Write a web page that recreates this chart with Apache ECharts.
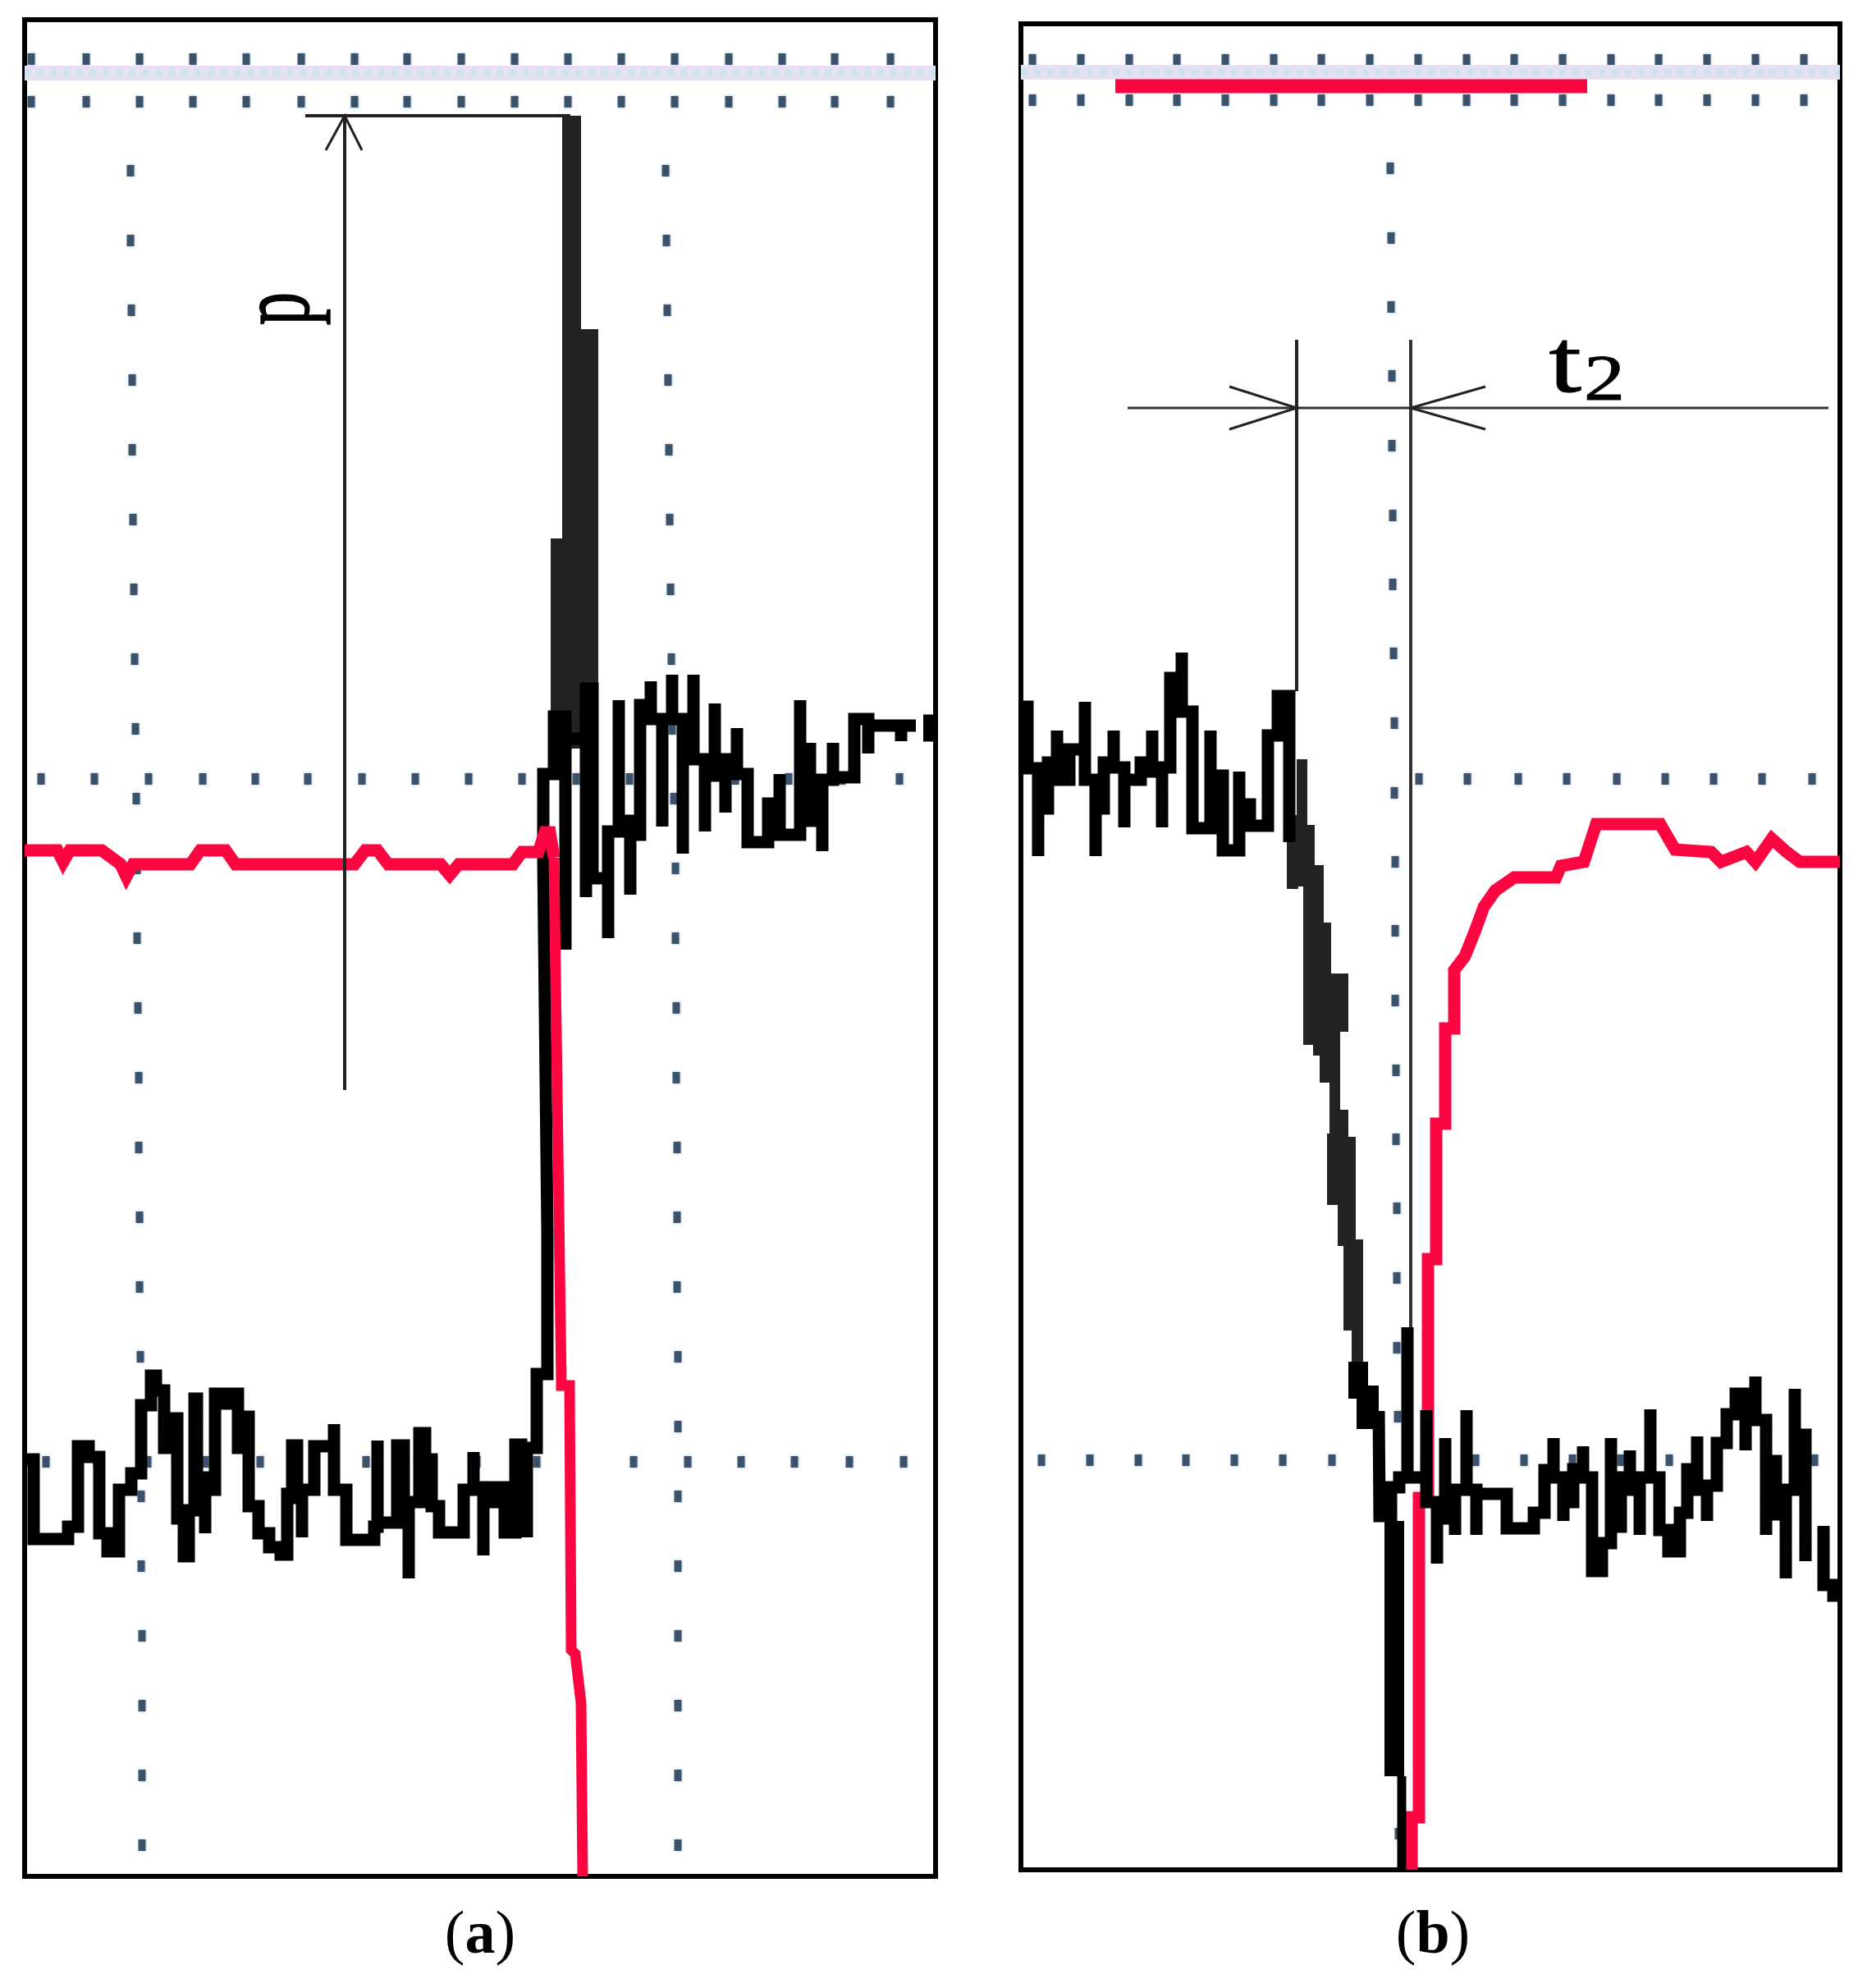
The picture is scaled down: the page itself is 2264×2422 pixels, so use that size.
<!DOCTYPE html>
<html>
<head>
<meta charset="utf-8">
<title>Pressure traces (a) and (b)</title>
<script src="https://cdn.jsdelivr.net/npm/echarts@6/dist/echarts.min.js"></script>
<style>
  html, body { margin: 0; padding: 0; background: #fff; }
  #chart { width: 2264px; height: 2422px; }
</style>
</head>
<body>
<div id="chart"></div>
<script>
// values: [time, level]
const blackA = [[0,508],[11,508],[11,411],[53,411],[53,426],[65,426],[65,524],[78,524],[78,511],[91,511],[91,418],[101,418],[101,396],[115,396],[115,471],[130,471],[130,491],[142,491],[142,574],[154,574],[154,610],[160,610],[160,592],[170,592],[170,522],[178,522],[178,558],[186,558],[186,436],[194,436],[194,390],[200,390],[200,446],[207,446],[207,582],[210,582],[210,486],[220,486],[220,418],[220,471],[232,471],[232,588],[240,588],[240,576],[252,576],[252,588],[260,588],[260,522],[266,522],[266,560],[273,560],[273,451],[285,451],[285,418],[298,418],[298,401],[312,401],[312,392],[320,392],[320,466],[326,466],[326,525],[332,525],[332,461],[338,461],[338,413],[338,471],[353,471],[353,524],[377,524],[377,551],[377,471],[392,471],[392,410],[426,410],[426,426],[430,426],[430,531],[430,431],[454,431],[454,525],[462,525],[462,456],[468,456],[468,363],[468,456],[481,456],[481,540],[488,540],[488,508],[496,508],[496,451],[505,451],[505,419],[535,419],[535,471],[547,471],[547,517],[547,474],[559,474],[559,391],[559,456],[573,456],[573,474],[585,474],[585,419],[598,419],[598,526],[605,526],[605,496],[612,496],[612,413],[612,522],[624,522],[624,612],[637,612],[637,786],[632,1238],[632,1343],[645,1343],[645,1413],[659,1413],[659,1129],[659,1386],[684,1386],[684,1193],[684,1447],[692,1447],[692,1216],[711,1216],[711,1143],[711,1273],[724,1273],[724,1433],[724,1286],[738,1286],[738,1196],[738,1269],[750,1269],[750,1427],[763,1427],[763,1456],[763,1410],[777,1410],[777,1279],[777,1410],[789,1410],[789,1464],[789,1410],[802,1410],[802,1246],[802,1361],[815,1361],[815,1464],[815,1361],[829,1361],[829,1273],[829,1341],[841,1341],[841,1429],[841,1341],[854,1341],[854,1296],[854,1361],[868,1361],[868,1399],[868,1343],[881,1343],[881,1260],[906,1260],[906,1307],[920,1307],[920,1343],[920,1269],[945,1269],[945,1433],[945,1286],[957,1286],[957,1381],[957,1286],[972,1286],[972,1249],[972,1336],[985,1336],[985,1381],[985,1339],[1011,1339],[1011,1410],[1028,1410],[1028,1368],[1028,1402],[1068,1402],[1068,1383],[1068,1402],[1086,1402]];
const blackEndA = [[1095,1399],[1110,1399]];
const pulseBarsA = [[666.5,2145,1434],[681,1885,1451],[652,1630,1420],[670.5,1434,1374]];
const redFlatA = [[0,1250],[40,1250],[47,1236],[55,1250],[94,1250],[117,1233],[124,1218],[132,1233],[202,1233],[214,1250],[245,1250],[257,1233],[402,1233],[415,1250],[430,1250],[443,1233],[507,1233],[518,1220],[529,1233],[595,1233],[606,1248],[626,1248],[634,1272],[640,1272],[645,1241]];
const redFallA = [[645,1241],[650,886],[654,598],[664,598],[666,276],[671,271],[678,211],[680,0]];

const blackB = [[0,1417],[8,1417],[8,1342],[21,1342],[21,1235],[21,1293],[33,1293],[33,1349],[44,1349],[44,1388],[44,1328],[59,1328],[59,1365],[78,1365],[78,1423],[78,1328],[91,1328],[91,1235],[91,1293],[101,1293],[101,1349],[113,1349],[113,1388],[113,1343],[126,1343],[126,1270],[126,1328],[146,1328],[146,1349],[160,1349],[160,1388],[160,1338],[172,1338],[172,1270],[172,1343],[182,1343],[182,1452],[196,1452],[196,1483],[196,1411],[209,1411],[209,1269],[231,1269],[231,1388],[231,1333],[246,1333],[246,1242],[266,1242],[266,1338],[266,1298],[279,1298],[279,1272],[301,1272],[301,1382],[313,1382],[313,1430],[327,1430],[327,1252]];
const blackRiseB = [[436,559],[437,431],[451,431],[451,466],[461,466],[461,478],[471,478],[471,661],[471,478],[494,478],[494,560],[494,448],[507,448],[507,373],[507,438],[517,438],[517,526],[517,428],[529,428],[529,408],[529,463],[543,463],[543,560],[543,463],[555,463],[555,408],[555,458],[592,458],[592,416],[625,416],[625,435],[638,435],[638,487],[649,487],[649,526],[649,478],[661,478],[661,425],[661,448],[673,448],[673,488],[685,488],[685,516],[685,478],[696,478],[696,364],[708,364],[708,398],[719,398],[719,526],[719,418],[731,418],[731,478],[742,478],[742,511],[742,463],[754,463],[754,408],[754,478],[767,478],[767,561],[767,478],[778,478],[778,414],[789,414],[789,388],[803,388],[803,435],[812,435],[812,488],[824,488],[824,528],[824,463],[836,463],[836,425],[836,468],[848,468],[848,520],[860,520],[860,555],[871,555],[871,580],[883,580],[883,511],[883,578],[895,578],[895,601],[895,548],[908,548],[908,408],[908,498],[920,498],[920,433],[932,433],[932,355],[932,463],[943,463],[943,586],[943,530],[956,530],[956,376]];
const blackEndB = [[978,419],[978,347],[990,347],[990,334],[998,334]];
const fallBarsB = [[331,1285,1195],[342.5,1353,1198],[351,1273,1129],[363.5,1224,1148],[351,1129,1005],[367,1154,992],[388.5,1092,1021],[376.5,1025,959],[382.5,959,893],[379.5,897,810],[392.5,926,760],[402,893,760],[400.5,760,657],[410,768,615]];
const fallBlackB = [[411,619,574],[422.5,590,537],[455,425,114],[464,114,0]];
const redBarB = [[115,2173],[690,2173]];
const redB = [[476,0],[476,64],[485,64],[485,453],[496,453],[496,744],[506,744],[506,909],[517,909],[517,1025],[528,1025],[528,1096],[541,1113],[553,1143],[564,1173],[578,1193],[601,1209],[652,1209],[658,1223],[686,1228],[701,1274],[779,1274],[797,1243],[841,1240],[853,1228],[884,1240],[895,1228],[915,1256],[933,1240],[949,1228],[998,1228]];

// scope graticule dots
const topDotsA = [8,75,140,205,270,337,402,466,532,597,662,727,792,858,923,987,1055];
const midDotsA = [20,85,151,217,281,345,411,476,541,606,672,737,802,866,931,996,1066];
const lowDotsA = [26,88,150,220,287,353,416,479,551,624,742,808,873,938,1005,1071];
const colLevelsA = [2078,1993,1908,1823,1738,1653,1568,1483,1398,1313,1228,1143,1058,973,888,803,718,633,548,463,378,293,208,123,38];
const col1TimesA = [129,129,130,131,131,132,133,134,135,136,137,137,138,139,139,140,140,141,142,142,142,143,143,143,143];
const col2TimesA = [781,782,783,784,785,786,787,788,789,791,793,793,794,794,795,795,795,796,796,796,796,796,796,796,796];
const topDotsB = [14,73,132,190,249,308,366,425,484,543,601,660,719,777,836,895,954];
const midDotsB = [485,544,606,665,726,785,844,903,964];
const lowDotsB = [25,84,143,201,260,319,379,436,495,554,613,672,731,790,849,908,967];
const colLevelsB = [2073,1988,1904,1820,1735,1650,1566,1482,1397,1312,1228,1144,1059,974,890,806,721,636,552,468,383,298,214,130,44];
const colTimesB = [450,451,451,452,452,453,453,454,455,455,456,456,456,457,457,458,458,458,459,459,459,460,460,460,460];

// measuring lines drawn over the traces
const peakLineA = [[342,2145],[665,2145]];
const peakArrowA = [[390,2145],[390,958]];
const peakHeadA = [[367,2103],[390,2145],[411,2103]];
const cursor1B = [[336,1864],[336,1436]];
const cursor2B = [[475,1864],[475,657]];
const spanLineB = [[130,1781],[984,1781]];
const spanHead1B = [[254,1807],[336,1781],[254,1755]];
const spanHead2B = [[566,1807],[475,1781],[566,1755]];

const RED = "#fb0640";
const serif = "Liberation Serif";

function line(i, data, color, width, extra) {
  return Object.assign({
    type: "line",
    xAxisIndex: i,
    yAxisIndex: i,
    data: data,
    symbol: "none",
    silent: true,
    animation: false,
    lineStyle: { color: color, width: width, cap: "butt", join: "miter", miterLimit: 10 },
  }, extra || {});
}

function bars(i, rows, color, widths) {
  return rows.map((r, k) => line(i, [[r[0], r[1]], [r[0], r[2]]], color, widths[k]));
}

function dots(i, points) {
  return {
    type: "scatter",
    xAxisIndex: i,
    yAxisIndex: i,
    data: points,
    symbol: "rect",
    symbolSize: [9, 14],
    silent: true,
    animation: false,
    itemStyle: { color: "#2f4760", opacity: 0.9, shadowBlur: 3, shadowColor: "#8fa6c4" },
  };
}

const row = (times, level) => times.map((t) => [t, level]);
const zip = (times, levels) => times.map((t, k) => [t, levels[k]]);

const series = [
  // panel a
  line(0, [[0, 2197], [1110, 2197]], "#e6e0f3", 18),
  line(0, [[0, 2197], [1110, 2197]], "#c8e3f2", 8, { lineStyle: { color: "#c8e3f2", width: 8, type: [7, 9] } }),
  dots(0, row(topDotsA, 2214)),
  dots(0, row(topDotsA, 2162)),
  dots(0, row(midDotsA, 1337)),
  dots(0, row(lowDotsA, 505)),
  dots(0, zip(col1TimesA, colLevelsA)),
  dots(0, zip(col2TimesA, colLevelsA)),
  ...bars(0, pulseBarsA, "#232325", [23, 36, 22, 15]),
  line(0, blackA, "#000", 15),
  line(0, blackEndA, "#000", 33),
  line(0, redFlatA, RED, 15),
  line(0, redFallA, RED, 13),
  line(0, peakLineA, "#222", 4),
  line(0, peakArrowA, "#222", 4),
  line(0, peakHeadA, "#222", 3),

  // panel b
  line(1, [[0, 2190], [998, 2190]], "#e6e0f3", 18),
  line(1, [[0, 2190], [998, 2190]], "#c8e3f2", 8, { lineStyle: { color: "#c8e3f2", width: 8, type: [7, 9] } }),
  dots(1, row(topDotsB, 2205)),
  dots(1, row(topDotsB, 2156)),
  dots(1, row(midDotsB, 1329)),
  dots(1, row(lowDotsB, 499)),
  dots(1, zip(colTimesB, colLevelsB)),
  line(1, redBarB, RED, 17),
  line(1, redB, RED, 15),
  line(1, cursor1B, "#222", 4),
  line(1, cursor2B, "#333", 4),
  line(1, spanLineB, "#333", 3),
  line(1, spanHead1B, "#222", 3),
  line(1, spanHead2B, "#222", 3),
  ...bars(1, fallBarsB, "#232325", [14, 13, 14, 11, 14, 22, 21, 25, 13, 13, 13, 12, 15, 14]),
  ...bars(1, fallBlackB, "#000", [24, 27, 24, 11]),
  line(1, blackB, "#000", 15),
  line(1, blackRiseB, "#000", 15),
  line(1, blackEndB, "#000", 15),
];

const frame = { show: true, backgroundColor: "#fff", borderColor: "#000", borderWidth: 6 };
const hiddenAxis = (max, extra) => Object.assign({ type: "value", min: 0, max: max, show: false, splitLine: { show: false } }, extra || {});

const chart = echarts.init(document.getElementById("chart"), null, { renderer: "canvas" });
chart.setOption({
  backgroundColor: "#fff",
  animation: false,
  grid: [
    Object.assign({ left: 30, top: 24, width: 1110, height: 2262 }, frame),
    Object.assign({ left: 1244, top: 29, width: 998, height: 2249 }, frame),
  ],
  xAxis: [hiddenAxis(1110, { gridIndex: 0 }), hiddenAxis(998, { gridIndex: 1 })],
  yAxis: [hiddenAxis(2262, { gridIndex: 0 }), hiddenAxis(2249, { gridIndex: 1 })],
  series: series,
  graphic: [
    {
      type: "text", x: 342, y: 376, rotation: Math.PI / 2, scaleX: 0.65, z: 20,
      style: { text: "p", font: "124px " + serif, fill: "#000", stroke: "#000", lineWidth: 1.5, align: "center", verticalAlign: "middle" },
    },
    {
      type: "text", x: 1907, y: 448, scaleX: 1.3, z: 20,
      style: { text: "t", font: "110px " + serif, fill: "#000", stroke: "#000", lineWidth: 1, align: "center", verticalAlign: "middle" },
    },
    {
      type: "text", x: 1955, y: 466, scaleX: 1.28, z: 20,
      style: { text: "2", font: "78px " + serif, fill: "#000", stroke: "#000", lineWidth: 1, align: "center", verticalAlign: "middle" },
    },
    {
      type: "text", x: 585, y: 2360, z: 20,
      style: {
        text: "({b|a})", font: "74px " + serif, fill: "#000", align: "center", verticalAlign: "middle",
        rich: { b: { font: "bold 74px " + serif, fill: "#000" } },
      },
    },
    {
      type: "text", x: 1746, y: 2360, z: 20,
      style: {
        text: "({b|b})", font: "74px " + serif, fill: "#000", align: "center", verticalAlign: "middle",
        rich: { b: { font: "bold 74px " + serif, fill: "#000" } },
      },
    },
  ],
});
</script>
</body>
</html>
